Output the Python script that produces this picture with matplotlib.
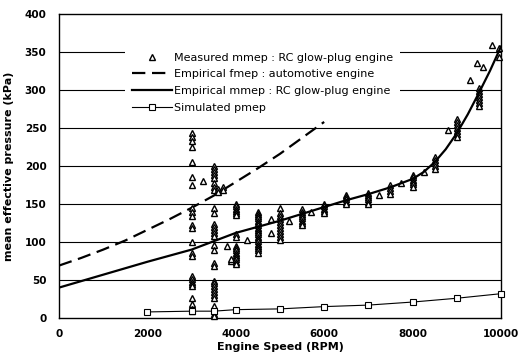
import matplotlib
matplotlib.use("Agg")
import matplotlib.pyplot as plt

# Measured mmep of the RC glow-plug engine (speed, pressure pairs)
meas_rpm = ([3000] * 24 + [3250] + [3500] * 30 + [3600] * 2 + [3700] * 2
            + [3800] + [3900] * 2 + [4000] * 17 + [4250] + [4500] * 19
            + [4800] * 2 + [5000] * 11 + [5200] + [5500] * 8 + [5700]
            + [6000] * 5 + [6500] * 5 + [7000] * 6 + [7250] + [7500] * 4
            + [7750] + [8000] * 6 + [8250] + [8500] * 5 + [8800]
            + [9000] * 7 + [9300] + [9450] + [9500] * 7 + [9600] + [9800]
            + [9950] * 2)
meas_mmep = [
    243, 238, 233, 225, 205, 186, 175, 145, 140, 134, 122, 118, 100, 86, 82,
    55, 51, 48, 45, 42, 26, 19, 12, 9,                      # 3000
    180,                                                    # 3250
    200, 196, 192, 188, 184, 178, 172, 168, 145, 138, 124, 120, 116, 112,
    108, 96, 90, 73, 68, 49, 46, 42, 38, 34, 30, 26, 16, 9, 5, 2,  # 3500
    170, 166, 172, 168,                                     # 3600, 3700
    95, 75, 78,                                             # 3800, 3900
    150, 147, 144, 141, 138, 135, 110, 106, 95, 92, 89, 86, 83, 80, 77, 74,
    71,                                                     # 4000
    103,                                                    # 4250
    140, 137, 134, 131, 128, 125, 122, 119, 116, 113, 110, 107, 104, 101, 98,
    95, 92, 89, 86,                                         # 4500
    130, 112,                                               # 4800
    145, 138, 134, 130, 126, 122, 118, 114, 110, 106, 102,  # 5000
    128,                                                    # 5200
    143, 140, 137, 134, 131, 128, 125, 122,                 # 5500
    140,                                                    # 5700
    150, 147, 144, 141, 138,                                # 6000
    162, 159, 156, 153, 150,                                # 6500
    165, 162, 159, 156, 153, 150,                           # 7000
    162,                                                    # 7250
    175, 171, 167, 163,                                     # 7500
    178,                                                    # 7750
    188, 185, 182, 179, 176, 173,                           # 8000
    192,                                                    # 8250
    212, 208, 204, 200, 196,                                # 8500
    247,                                                    # 8800
    262, 258, 254, 250, 246, 242, 238,                      # 9000
    313, 336,                                               # 9300, 9450
    303, 299, 295, 291, 287, 283, 279,                      # 9500
    330, 359,                                               # 9600, 9800
    355, 343,                                               # 9950
]

# Empirical fmep of an automotive engine
fmep_rpm = [0, 500, 1000, 1500, 2000, 2500, 3000, 3500, 4000, 4500, 5000,
            5500, 6000]
fmep_kpa = [69, 79, 90, 102, 116, 130, 145, 161, 179, 197, 216, 237, 258]

# Empirical mmep of the RC glow-plug engine
mmep_rpm = [0, 1000, 2000, 3000, 3500, 4000, 4500, 5000, 5500, 6000, 6500,
            7000, 7500, 8000, 8250, 8500, 8750, 9000, 9250, 9500, 9750,
            10000]
mmep_kpa = [40, 57, 74, 90, 101, 112, 120, 128, 137, 146, 155, 163, 172,
            183, 192, 205, 222, 243, 268, 296, 325, 357]

# Simulated pmep
pmep_rpm = [2000, 3000, 3500, 4000, 5000, 6000, 7000, 8000, 9000, 10000]
pmep_kpa = [8, 9, 9, 11, 12, 15, 17, 21, 26, 32]

x_ticks = [0, 2000, 4000, 6000, 8000, 10000]
y_ticks = [0, 50, 100, 150, 200, 250, 300, 350, 400]


def pressure_plot():
    """Draw the mean effective pressure against engine speed."""
    fig = plt.figure(figsize=(5.23, 3.55), dpi=100)
    ax = fig.add_axes([0.1128, 0.1042, 0.845, 0.8563])

    # horizontal grid lines only
    for y in y_ticks[1:-1]:
        ax.axhline(y, color='black', lw=0.8, zorder=1)

    ax.plot(meas_rpm, meas_mmep, linestyle='none', marker='^',
            markersize=5, markerfacecolor='white', markeredgecolor='black',
            markeredgewidth=1.0, clip_on=False, zorder=3,
            label='Measured mmep : RC glow-plug engine')
    ax.plot(fmep_rpm, fmep_kpa, color='black', lw=1.6, dashes=(6, 3),
            zorder=2, label='Empirical fmep : automotive engine')
    ax.plot(mmep_rpm, mmep_kpa, color='black', lw=1.6, zorder=4,
            label='Empirical mmep : RC glow-plug engine')
    ax.plot(pmep_rpm, pmep_kpa, color='black', lw=0.8, marker='s',
            markersize=4.5, markerfacecolor='white', markeredgecolor='black',
            markeredgewidth=0.8, clip_on=False, zorder=4,
            label='Simulated pmep')

    ax.set_xlim(0, 10000)
    ax.set_ylim(0, 400)
    ax.set_xticks(x_ticks)
    ax.set_yticks(y_ticks)
    ax.tick_params(length=0, labelsize=7.5)
    ax.tick_params(axis='x', pad=8)
    ax.tick_params(axis='y', pad=9)
    for lab in ax.get_xticklabels() + ax.get_yticklabels():
        lab.set_fontweight('bold')
    for sp in ax.spines.values():
        sp.set_linewidth(1.0)

    ax.set_xlabel('Engine Speed (RPM)', fontsize=8, fontweight='bold',
                  labelpad=2)
    ax.set_ylabel('mean effective pressure (kPa)', fontsize=8,
                  fontweight='bold', labelpad=8)

    leg = ax.legend(loc='upper left', bbox_to_anchor=(0.15, 0.895),
                    fontsize=8, frameon=True, fancybox=False,
                    edgecolor='none', facecolor='white', framealpha=1,
                    handlelength=3.6, handletextpad=0.2, labelspacing=0.6,
                    borderpad=0.6, borderaxespad=0)
    leg.set_zorder(5)

    fig.savefig('out.png', dpi=100)


pressure_plot()
